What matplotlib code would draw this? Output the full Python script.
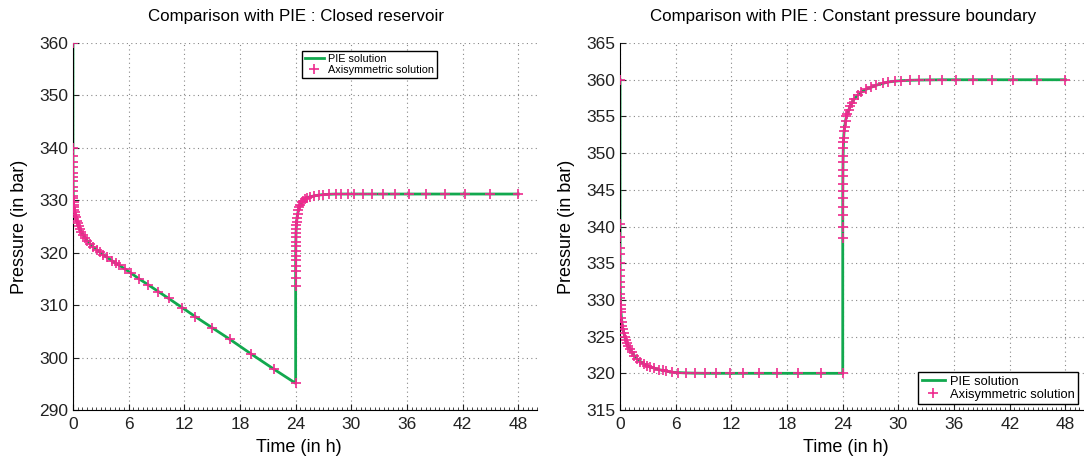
import numpy as np
import matplotlib
matplotlib.use('Agg')
import matplotlib.pyplot as plt
from matplotlib.ticker import MultipleLocator

plt.rcParams['font.family'] = ['Liberation Sans', 'DejaVu Sans']

# drawdown (0-24 h) and build-up (24-48 h) sample times
t_down = [0, 0.0005, 0.001, 0.002, 0.003, 0.005, 0.007, 0.01, 0.015, 0.02, 0.03, 0.04,
          0.06, 0.08, 0.1, 0.15, 0.2, 0.25, 0.3, 0.4, 0.5, 0.6, 0.75, 0.9, 1.1, 1.3, 1.55,
          1.84, 2.2, 2.56, 2.9, 3.28, 3.7, 4.18, 4.6, 5.0, 5.6, 6.27, 7.14, 8.1, 9.2, 10.3,
          11.8, 13.2, 15.0, 16.9, 19.2, 21.65, 24.0]
t_up = [24.0005, 24.001, 24.002, 24.003, 24.005, 24.007, 24.01, 24.015, 24.02, 24.03,
        24.04, 24.06, 24.08, 24.1, 24.15, 24.2, 24.3, 24.4, 24.5, 24.65, 24.8, 25.0, 25.25,
        25.6, 26.0, 26.5, 27.0, 27.6, 28.3, 28.9, 29.6, 30.3, 31.3, 32.2, 33.4, 34.7, 36.2,
        38.0, 40.1, 42.3, 44.9, 48.0]

# closed reservoir
p_down_closed = [360.0, 340.0, 338.4, 337.3, 336.4, 335.3, 334.5, 333.6, 332.6, 331.8, 330.9,
                 330.4, 329.7, 329.2, 328.8, 328.2, 327.7, 327.2, 326.8, 326.1, 325.6, 325.1,
                 324.5, 324.0, 323.4, 322.9, 322.3, 321.7, 321.1, 320.6, 320.1, 319.6, 319.1,
                 318.5, 318.0, 317.6, 316.9, 316.1, 315.0, 313.9, 312.6, 311.3, 309.5, 307.8,
                 305.7, 303.5, 300.7, 297.8, 295.1]
p_up_closed = [313.6, 315.2, 316.6, 317.5, 318.6, 319.4, 320.3, 321.3, 322.0, 323.0, 323.7,
               324.6, 325.3, 325.8, 326.7, 327.3, 328.1, 328.7, 329.1, 329.6, 329.9, 330.2,
               330.5, 330.7, 330.85, 331.0, 331.1, 331.15, 331.2, 331.2, 331.2, 331.2, 331.2,
               331.2, 331.2, 331.2, 331.2, 331.2, 331.2, 331.2, 331.2, 331.2]

# constant pressure boundary
p_down_const = [360.0, 340.3, 338.6, 337.1, 336.2, 335.0, 334.1, 333.3, 332.4, 331.7, 330.8,
                330.2, 329.3, 328.7, 328.3, 327.6, 327.0, 326.5, 326.1, 325.5, 325.0, 324.6,
                324.1, 323.7, 323.25, 322.85, 322.4, 321.95, 321.6, 321.3, 321.05, 320.85,
                320.7, 320.5, 320.4, 320.3, 320.15, 320.1, 320.05, 320.02, 320.0, 320.0, 320.0,
                320.0, 320.0, 320.0, 320.0, 320.0, 320.0]
p_up_const = [338.4, 340.0, 341.6, 342.6, 343.9, 344.8, 345.8, 346.9, 347.7, 348.8, 349.6,
              350.7, 351.5, 352.1, 353.0, 353.6, 354.4, 355.0, 355.4, 355.9, 356.4, 356.9,
              357.4, 357.9, 358.3, 358.7, 358.95, 359.25, 359.5, 359.7, 359.8, 359.88, 359.93,
              359.96, 359.98, 360.0, 360.0, 360.0, 360.0, 360.0, 360.0, 360.0]

green = '#12a84e'
pink = '#ee2a8e'

fig = plt.figure(figsize=(10.84, 4.61), dpi=100)
ax1 = fig.add_axes([0.0673, 0.1106, 0.428, 0.796])
ax2 = fig.add_axes([0.572, 0.1106, 0.428, 0.796])

t_all = np.concatenate([t_down, t_up])

def draw(ax, p_down, p_up, title, ylim, ystep, legloc, anchor, legsize):
    p_all = np.concatenate([p_down, p_up])
    ax.plot(t_all, p_all, color=green, lw=2.0, label='PIE solution', zorder=2)
    ax.plot(t_all, p_all, ls='none', marker='+', ms=7, mew=1.2, color=pink,
            label='Axisymmetric solution', zorder=3)
    ax.set_xlim(0, 50)
    ax.set_ylim(*ylim)
    ax.set_xticks(np.arange(0, 49, 6))
    ax.set_yticks(np.arange(ylim[0], ylim[1] + 1, ystep))
    ax.xaxis.set_minor_locator(MultipleLocator(0.5))
    ax.tick_params(direction='in', labelsize=12.5, length=4, width=0.8, colors='#222222')
    ax.tick_params(which='minor', direction='in', length=2, width=0.5)
    ax.tick_params(axis='x', pad=5)
    ax.grid(True, ls=(0, (1, 3)), color='#888888', lw=0.8)
    for s in ('top', 'right'):
        ax.spines[s].set_visible(False)
    ax.set_title(title, fontsize=12.2, x=24 / 50, pad=16)
    ax.set_xlabel('Time (in h)', fontsize=13, x=24.3 / 50, labelpad=5)
    ax.set_ylabel('Pressure (in bar)', fontsize=13, labelpad=8)
    leg = ax.legend(loc=legloc, bbox_to_anchor=anchor, borderaxespad=0, fontsize=legsize,
                    fancybox=False, framealpha=1, edgecolor='black', handlelength=1.8,
                    handletextpad=0.4, borderpad=0.25, labelspacing=0.1)
    leg.get_frame().set_linewidth(1.0)

draw(ax1, p_down_closed, p_up_closed, 'Comparison with PIE : Closed reservoir',
     (290, 360), 10, 'upper left', (0.4935, 0.978), 7.8)
draw(ax2, p_down_const, p_up_const, 'Comparison with PIE : Constant pressure boundary',
     (315, 365), 5, 'lower right', (0.987, 0.016), 9.3)

fig.savefig('out.png', dpi=100)
